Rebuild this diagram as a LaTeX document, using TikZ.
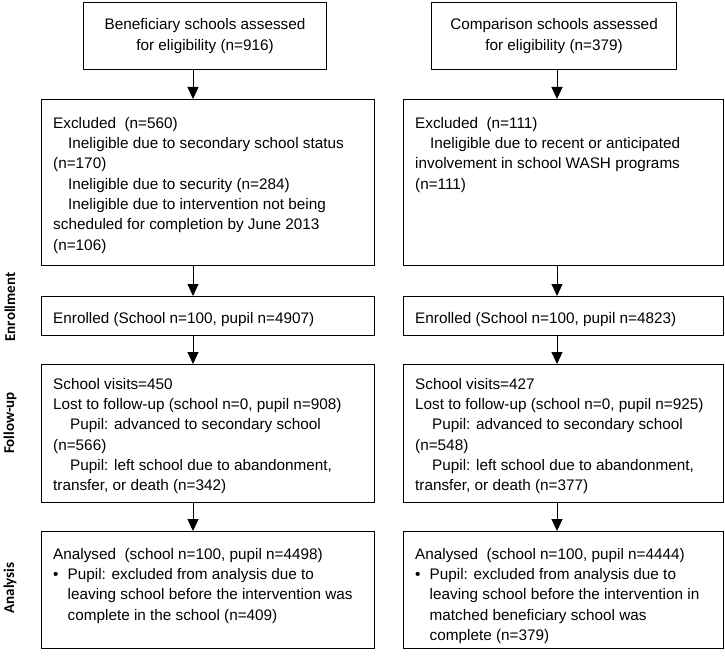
\documentclass[tikz,border=0pt]{standalone}
\usepackage{fontspec}
\setmainfont{Liberation Sans}
\newfontfamily\phasefont{Carlito}
\usetikzlibrary{arrows.meta}

\begin{document}
\begin{tikzpicture}[x=1pt,y=-1pt,
  box/.style={draw, line width=1.1pt, inner sep=0pt, anchor=north west},
  txt/.style={inner sep=0pt, anchor=north west, align=left, font=\fontsize{15.3}{20.3}\selectfont},
  flow/.style={line width=1pt, -{Triangle[width=11pt,length=12pt]}},
  phase/.style={rotate=90, inner sep=0pt, font=\phasefont\bfseries\fontsize{15}{18}\selectfont}]

\useasboundingbox (0,0) rectangle (725,658);

% Top boxes, assessed for eligibility
\node[box, minimum width=243pt, minimum height=67pt, align=center,
  font=\fontsize{15.3}{20.3}\selectfont] (benef) at (83,2)
  {Beneficiary schools assessed\\for eligibility (n=916)};
\node[box, minimum width=245pt, minimum height=67pt, align=center,
  font=\fontsize{15.3}{20.3}\selectfont] (comp) at (431,2)
  {Comparison schools assessed\\for eligibility (n=379)};

% Column boxes
\node[box, minimum width=333pt, minimum height=166pt] (exclA) at (41,99) {};
\node[box, minimum width=320pt, minimum height=166pt] (exclB) at (403,99) {};
\node[box, minimum width=333pt, minimum height=39pt] (enrA) at (41,296) {};
\node[box, minimum width=320pt, minimum height=39pt] (enrB) at (403,296) {};
\node[box, minimum width=333pt, minimum height=138pt] (fupA) at (41,364) {};
\node[box, minimum width=320pt, minimum height=138pt] (fupB) at (403,364) {};
\node[box, minimum width=333pt, minimum height=117pt] (anaA) at (41,531) {};
\node[box, minimum width=320pt, minimum height=117pt] (anaB) at (403,531) {};

% Texts in the boxes
\node[txt] (exclAtxt) at ([shift={(12,18)}]exclA.north west)
  {Excluded\ \ (n=560)\\
   \hspace*{15pt}Ineligible due to secondary school status\\
   (n=170)\\
   \hspace*{15pt}Ineligible due to security (n=284)\\
   \hspace*{15pt}Ineligible due to intervention not being\\
   scheduled for completion by June 2013\\
   (n=106)};
\node[txt] (exclBtxt) at ([shift={(12,18)}]exclB.north west)
  {Excluded\ \ (n=111)\\
   \hspace*{15pt}Ineligible due to recent or anticipated\\
   involvement in school WASH programs\\
   (n=111)};
\node[txt] (enrAtxt) at ([shift={(12,16)}]enrA.north west)
  {Enrolled (School n=100, pupil n=4907)};
\node[txt] (enrBtxt) at ([shift={(12,16)}]enrB.north west)
  {Enrolled (School n=100, pupil n=4823)};
\node[txt] (fupAtxt) at ([shift={(12,14)}]fupA.north west)
  {School visits=450\\
   Lost to follow-up (school n=0, pupil n=908)\\
   \hspace*{17pt}Pupil: advanced to secondary school\\
   (n=566)\\
   \hspace*{17pt}Pupil: left school due to abandonment,\\
   transfer, or death (n=342)};
\node[txt] (fupBtxt) at ([shift={(12,14)}]fupB.north west)
  {School visits=427\\
   Lost to follow-up (school n=0, pupil n=925)\\
   \hspace*{17pt}Pupil: advanced to secondary school\\
   (n=548)\\
   \hspace*{17pt}Pupil: left school due to abandonment,\\
   transfer, or death (n=377)};
\node[txt] (anaAtxt) at ([shift={(12,17)}]anaA.north west)
  {Analysed\ \ (school n=100, pupil n=4498)\\
   \makebox[14.5pt][l]{\textbullet}Pupil: excluded from analysis due to\\
   \hspace*{14.5pt}leaving school before the intervention was\\
   \hspace*{14.5pt}complete in the school (n=409)};
\node[txt] (anaBtxt) at ([shift={(12,17)}]anaB.north west)
  {Analysed\ \ (school n=100, pupil n=4444)\\
   \makebox[14.5pt][l]{\textbullet}Pupil: excluded from analysis due to\\
   \hspace*{14.5pt}leaving school before the intervention in\\
   \hspace*{14.5pt}matched beneficiary school was\\
   \hspace*{14.5pt}complete (n=379)};

% Phase labels on the left
\node[phase] (enrLabel) at (10,307) {Enrollment};
\node[phase] (fupLabel) at (10,423) {Follow-up};
\node[phase] (anaLabel) at (10,588) {Analysis};

% Arrows down each column
\coordinate (colA) at (193,0);
\coordinate (colB) at (557,0);
\foreach \u/\v in {benef/exclA, exclA/enrA, enrA/fupA, fupA/anaA}
  \draw[flow] (\u.south -| colA) -- (\v.north -| colA);
\foreach \u/\v in {comp/exclB, exclB/enrB, enrB/fupB, fupB/anaB}
  \draw[flow] (\u.south -| colB) -- (\v.north -| colB);
\end{tikzpicture}
\end{document}
